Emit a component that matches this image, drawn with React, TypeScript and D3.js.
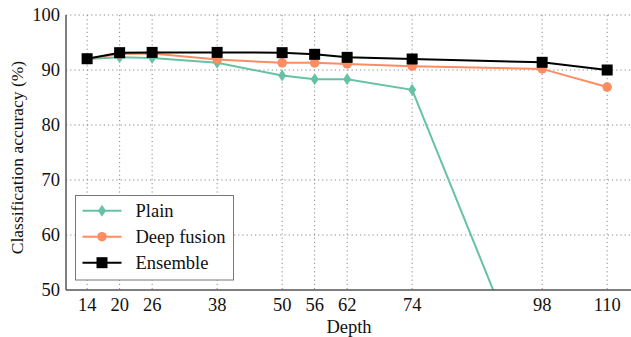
import React from 'react';
import * as d3 from 'd3';

const depths = [14, 20, 26, 38, 50, 56, 62, 74, 98, 110];
const plain = [92.0, 92.3, 92.2, 91.3, 89.0, 88.3, 88.3, 86.4, 28.0, null];
const deepFusion = [92.05, 92.9, 93.0, 91.9, 91.3, 91.3, 91.1, 90.7, 90.2, 86.9];
const ensemble = [92.05, 93.15, 93.2, 93.2, 93.15, 92.85, 92.3, 92.0, 91.4, 90.0];
const yTicks = [50, 60, 70, 80, 90, 100];

const seriesList = [
  { name: 'Plain', values: plain, color: '#66c2a5', marker: 'diamond' },
  { name: 'Deep fusion', values: deepFusion, color: '#fc8d62', marker: 'circle' },
  { name: 'Ensemble', values: ensemble, color: '#000000', marker: 'square' },
];

const W = 631;
const H = 337;
const left = 66, top = 15, bottom = 290, right = 631;
const font = "'Liberation Serif', 'Times New Roman', 'DejaVu Serif', serif";

function Marker({ kind, x, y, color }: { kind: string; x: number; y: number; color: string }) {
  if (kind === 'diamond') {
    return <path d={`M${x},${y - 6}L${x + 4},${y}L${x},${y + 6}L${x - 4},${y}Z`} fill={color} />;
  }
  if (kind === 'circle') {
    return <circle cx={x} cy={y} r={4.8} fill={color} />;
  }
  return <rect x={x - 5.5} y={y - 5.5} width={11} height={11} fill={color} />;
}

export default function App() {
  const x = d3.scaleLinear().domain([10.1, 114.4]).range([left, right]);
  const y = d3.scaleLinear().domain([50, 100]).range([bottom, top]);

  const line = d3
    .line<[number, number | null]>()
    .defined(d => d[1] != null)
    .x(d => x(d[0]))
    .y(d => y(d[1] as number));

  const txt = { fontFamily: font, fontSize: 18.5, fill: '#111' };

  return (
    <svg width={W} height={H} style={{ position: 'absolute', left: 0, top: 0 }}>
      <defs>
        <clipPath id="plot">
          <rect x={left} y={top - 8} width={right - left} height={bottom - top + 8} />
        </clipPath>
      </defs>
      {/* grid */}
      {yTicks.filter(t => t > 50).map(t => (
        <line key={'gy' + t} x1={left} x2={right} y1={y(t)} y2={y(t)} stroke="#888" strokeWidth={1} strokeDasharray="1.2,3" />
      ))}
      {depths.map(d => (
        <line key={'gx' + d} x1={x(d)} x2={x(d)} y1={top} y2={bottom} stroke="#888" strokeWidth={1} strokeDasharray="1.2,3" />
      ))}
      {/* series */}
      <g clipPath="url(#plot)">
        {seriesList.map(s => {
          const pts = depths.map((d, i) => [d, s.values[i]] as [number, number | null]);
          return (
            <g key={s.name}>
              <path d={line(pts) || ''} fill="none" stroke={s.color} strokeWidth={2} />
              {pts.filter(p => p[1] != null && (p[1] as number) >= 50).map(p => (
                <Marker key={p[0]} kind={s.marker} x={x(p[0])} y={y(p[1] as number)} color={s.color} />
              ))}
            </g>
          );
        })}
      </g>
      {/* axes */}
      <line x1={left} x2={left} y1={top} y2={bottom} stroke="#555" strokeWidth={1.5} />
      <line x1={left} x2={right} y1={bottom} y2={bottom} stroke="#555" strokeWidth={1.5} />
      {yTicks.map(t => (
        <text key={'ty' + t} x={left - 6} y={y(t)} dy="0.33em" textAnchor="end" style={txt}>{t}</text>
      ))}
      {depths.map(d => (
        <text key={'tx' + d} x={x(d)} y={bottom + 21} textAnchor="middle" style={txt}>{d}</text>
      ))}
      <text x={(left + right) / 2 + 0.5} y={333} textAnchor="middle" style={txt}>Depth</text>
      <text transform={`translate(23,${(top + bottom) / 2 + 5}) rotate(-90)`} textAnchor="middle" style={{ ...txt, fontSize: 17.5 }}>
        Classification accuracy (%)
      </text>
      {/* legend */}
      <rect x={75.5} y={195.5} width={158} height={84.5} fill="#fff" stroke="#777" strokeWidth={1} />
      {seriesList.map((s, i) => {
        const cy = 210.7 + i * 26;
        return (
          <g key={'lg' + s.name}>
            <line x1={82.5} x2={121.5} y1={cy} y2={cy} stroke={s.color} strokeWidth={2} />
            <Marker kind={s.marker} x={102} y={cy} color={s.color} />
            <text x={135.5} y={cy} dy="0.35em" style={txt}>{s.name}</text>
          </g>
        );
      })}
    </svg>
  );
}
